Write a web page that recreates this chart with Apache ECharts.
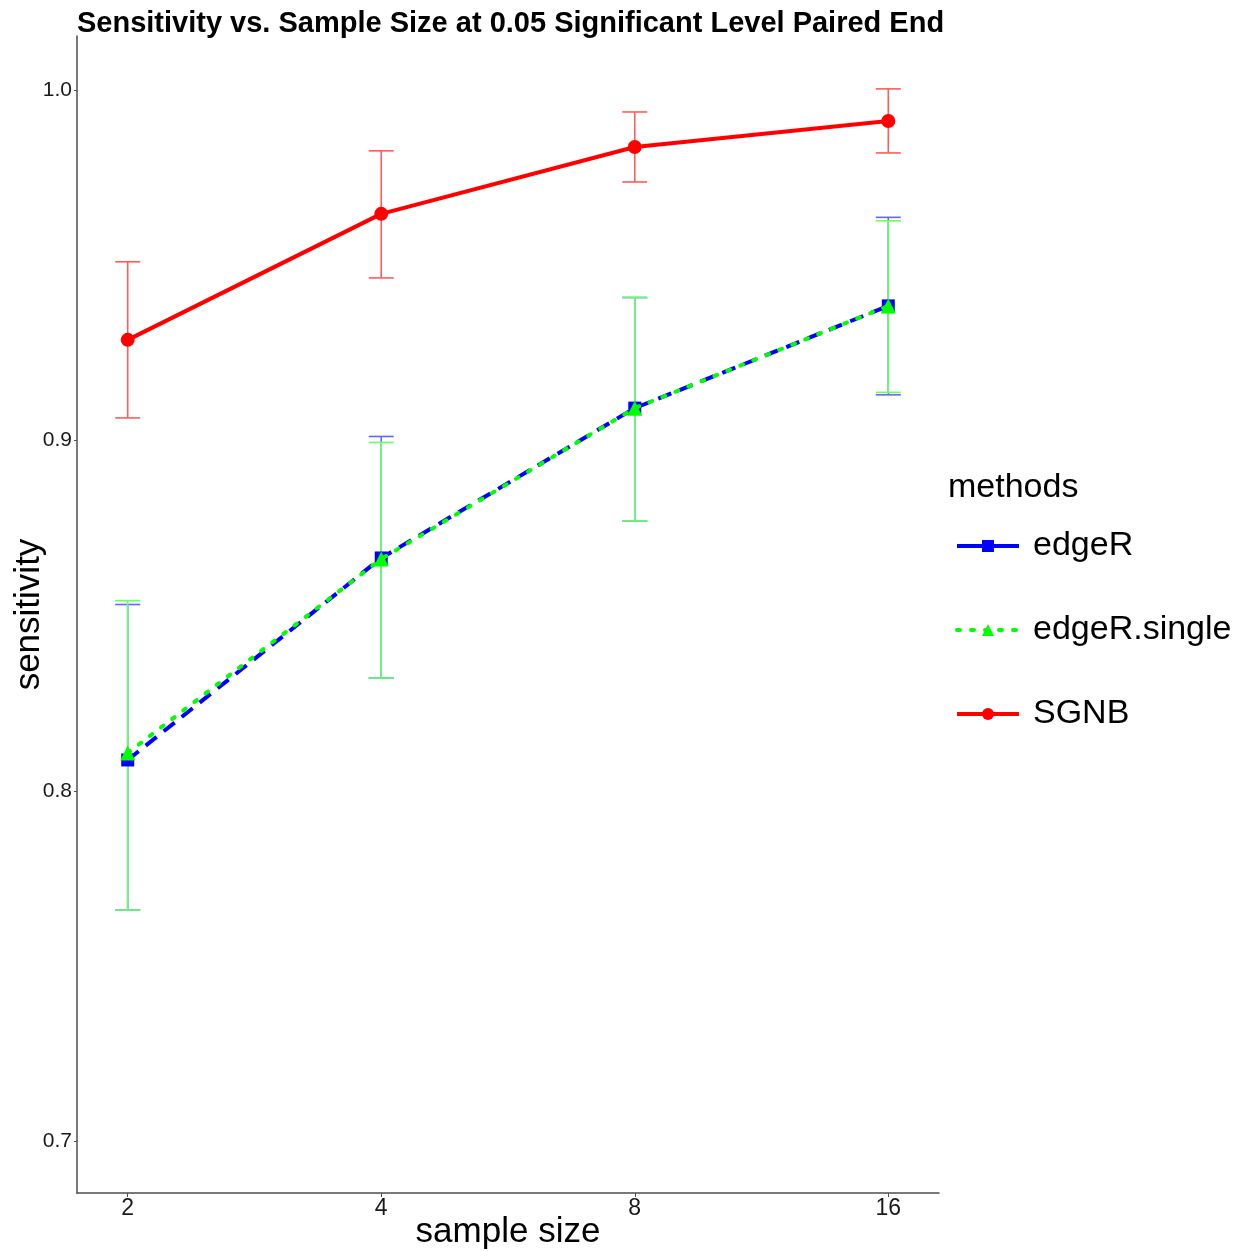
<!DOCTYPE html>
<html><head><meta charset="utf-8">
<script src="https://cdn.jsdelivr.net/npm/echarts@6/dist/echarts.min.js"></script>
<style>html,body{margin:0;padding:0;background:#fff;overflow:hidden}#c{width:1244px;height:1251px}</style>
</head><body><div id="c"></div>
<script>
const categories = ['2', '4', '8', '16'];
const yTicks = [0.7, 0.8, 0.9, 1.0];

const edgeRMean = [0.8088, 0.8665, 0.9093, 0.9385];
const edgeRLow  = [0.7659, 0.8322, 0.8771, 0.9131];
const edgeRHigh = [0.8532, 0.9012, 0.9409, 0.9638];

const singleMean = [0.8108, 0.8662, 0.9093, 0.9385];
const singleLow  = [0.7659, 0.8322, 0.8771, 0.9138];
const singleHigh = [0.8543, 0.8995, 0.9409, 0.9628];

const sgnbMean = [0.9288, 0.9648, 0.9839, 0.9913];
const sgnbLow  = [0.9065, 0.9465, 0.9739, 0.9822];
const sgnbHigh = [0.9511, 0.9828, 0.9939, 1.0005];

const FONT = '"Liberation Sans", Arial, sans-serif';

function pts(mean) { return mean.map((v, i) => [i, v]); }
function errData(low, high) { return low.map((v, i) => [i, v, high[i]]); }
function errSeries(name, low, high, color) {
  return {
    type: 'custom', name: name + '_err', silent: true,
    data: errData(low, high),
    encode: { x: 0, y: [1, 2] },
    renderItem: function (params, api) {
      const x = api.value(0);
      const lo = api.coord([x, api.value(1)]);
      const hi = api.coord([x, api.value(2)]);
      const hw = 12.5;
      const style = { stroke: color, lineWidth: 1.6, fill: null };
      return { type: 'group', children: [
        { type: 'line', shape: { x1: lo[0], y1: lo[1], x2: hi[0], y2: hi[1] }, style: style },
        { type: 'line', shape: { x1: lo[0] - hw, y1: lo[1], x2: lo[0] + hw, y2: lo[1] }, style: style },
        { type: 'line', shape: { x1: hi[0] - hw, y1: hi[1], x2: hi[0] + hw, y2: hi[1] }, style: style }
      ]};
    },
    z: 2
  };
}

const chart = echarts.init(document.getElementById('c'), null, { renderer: 'canvas' });
chart.setOption({
  animation: false,
  backgroundColor: '#ffffff',
  title: {
    text: 'Sensitivity vs. Sample Size at 0.05 Significant Level Paired End',
    left: 77, top: 9, padding: 0,
    textStyle: { fontFamily: FONT, fontWeight: 'bold', fontSize: 29, color: '#000' }
  },
  graphic: [{
    type: 'text', left: 948, top: 471,
    style: { text: 'methods', font: '34px "Liberation Sans", Arial, sans-serif', fill: '#000' }
  }],
  legend: {
    orient: 'vertical', left: 955, top: 529, padding: 0,
    itemWidth: 62, itemHeight: 15, itemGap: 50,
    data: [
      { name: 'edgeR', lineStyle: { type: 'solid', width: 4 } },
      { name: 'edgeR.single', lineStyle: { width: 4 } },
      { name: 'SGNB', lineStyle: { width: 4 } }
    ],
    textStyle: { fontFamily: FONT, fontSize: 34, color: '#000', padding: [0, 0, 0, 9] }
  },
  grid: { left: 77, top: 36, width: 862, height: 1157, containLabel: false, outerBoundsMode: 'none' },
  xAxis: {
    type: 'value', min: -0.2, max: 3.2,
    name: 'sample size', nameLocation: 'middle', nameGap: 22, nameMoveOverlap: false,
    nameTextStyle: { fontFamily: FONT, fontSize: 35, color: '#000' },
    axisLine: { show: true, onZero: false, lineStyle: { color: '#4d4d4d', width: 1.5 } },
    axisTick: { show: true, length: 4, customValues: [0, 1, 2, 3], lineStyle: { color: '#4d4d4d' } },
    axisLabel: { customValues: [0, 1, 2, 3], margin: 4, fontFamily: FONT, fontSize: 23, color: '#1a1a1a',
      formatter: v => categories[Math.round(v)] },
    splitLine: { show: false }
  },
  yAxis: {
    type: 'value', min: 0.6851, max: 1.0156,
    name: 'sensitivity', nameLocation: 'middle', nameGap: 30, nameMoveOverlap: false,
    nameTextStyle: { fontFamily: FONT, fontSize: 35, color: '#000' },
    axisLine: { show: true, onZero: false, lineStyle: { color: '#4d4d4d', width: 1.5 } },
    axisTick: { show: true, length: 3, customValues: yTicks, lineStyle: { color: '#4d4d4d' } },
    axisLabel: { customValues: yTicks, margin: 5, fontFamily: FONT, fontSize: 21, color: '#1a1a1a',
      formatter: v => v.toFixed(1) },
    splitLine: { show: false }
  },
  series: [
    errSeries('edgeR', edgeRLow, edgeRHigh, '#6666ff'),
    errSeries('edgeR.single', singleLow, singleHigh, '#66ff66'),
    errSeries('SGNB', sgnbLow, sgnbHigh, '#ff5c5c'),
    {
      name: 'edgeR', type: 'line', data: pts(edgeRMean),
      symbol: 'rect', symbolSize: 13,
      itemStyle: { color: '#0000ff' },
      lineStyle: { color: '#0000ff', width: 4, type: [14, 9] },
      z: 3
    },
    {
      name: 'edgeR.single', type: 'line', data: pts(singleMean),
      symbol: 'triangle', symbolSize: 15,
      itemStyle: { color: '#00ff00' },
      lineStyle: { color: '#00ff00', width: 4, type: [3, 11], cap: 'round' },
      z: 4
    },
    {
      name: 'SGNB', type: 'line', data: pts(sgnbMean),
      symbol: 'circle', symbolSize: 14,
      itemStyle: { color: '#ff0000' },
      lineStyle: { color: '#ff0000', width: 4 },
      z: 5
    }
  ]
});
</script>
</body></html>
